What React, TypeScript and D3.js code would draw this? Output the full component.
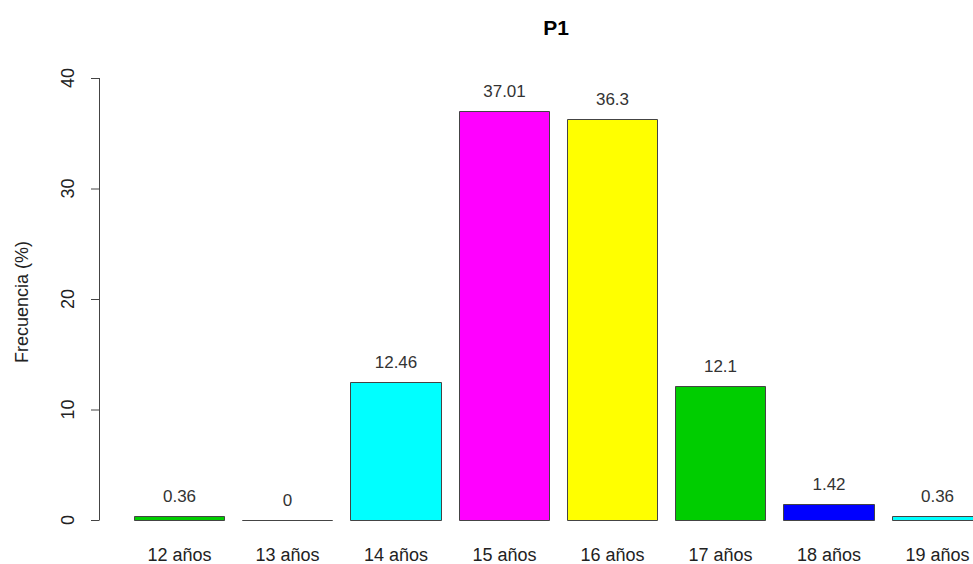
import React from "react";
import * as d3 from "d3";

const categories = ["12 años", "13 años", "14 años", "15 años", "16 años", "17 años", "18 años", "19 años"];
const values = [0.36, 0, 12.46, 37.01, 36.3, 12.1, 1.42, 0.36];
const colors = ["#00CD00", "#0000FF", "#00FFFF", "#FF00FF", "#FFFF00", "#00CD00", "#0000FF", "#00FFFF"];
const yTicks = [0, 10, 20, 30, 40];

export default function App() {
  const W = 973, H = 564;
  const y = d3.scaleLinear().domain([0, 40]).range([520, 78]);
  const x = d3.scaleLinear().domain([0.2, 1.2]).range([134, 224.2]);
  const font = "'Liberation Sans', Arial, sans-serif";
  return (
    <svg width={W} height={H} style={{ position: "absolute", left: 0, top: 0, background: "#fff" }} fontFamily={font}>
      <text x={556} y={35} textAnchor="middle" fontWeight="bold" fontSize={21}>P1</text>
      <line x1={99.5} x2={99.5} y1={y(0)} y2={y(40)} stroke="#444" />
      {yTicks.map(t => (
        <g key={t}>
          <line x1={91} x2={99.5} y1={y(t) + 0.5} y2={y(t) + 0.5} stroke="#444" />
          <text transform={`translate(74,${y(t)}) rotate(-90)`} textAnchor="middle" fontSize={18} fill="#222">{t}</text>
        </g>
      ))}
      <text transform={`translate(28,302) rotate(-90)`} textAnchor="middle" fontSize={18} fill="#222">Frecuencia (%)</text>
      {values.map((v, i) => {
        const l = Math.round(x(0.2 + 1.2 * i)) + 0.5, r = Math.round(x(1.2 + 1.2 * i)) + 0.5;
        const top = Math.round(y(v)) + 0.5, bot = y(0) + 0.5;
        const cx = (l + r) / 2;
        return (
          <g key={i}>
            <path d={`M${l},${top}H${r}V${bot}H${l}Z`} fill={colors[i]} stroke="#444" strokeWidth={1} />
            <text x={cx} y={y(v) - 14} textAnchor="middle" fontSize={17} fill="#333">{v}</text>
            <text x={cx} y={561} textAnchor="middle" fontSize={18} fill="#222">{categories[i]}</text>
          </g>
        );
      })}
    </svg>
  );
}
